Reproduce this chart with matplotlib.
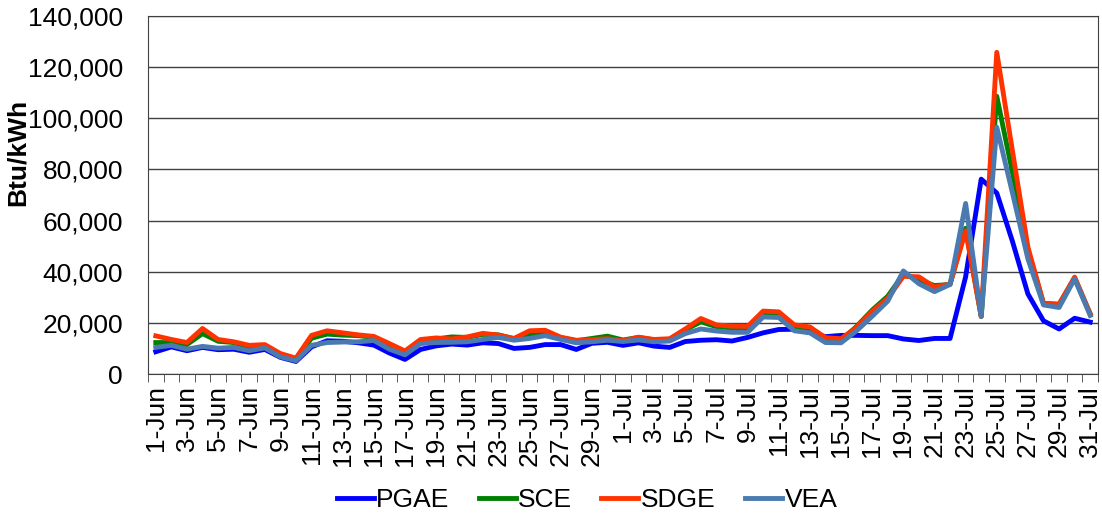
import matplotlib
matplotlib.use('Agg')
import matplotlib.pyplot as plt
from matplotlib.ticker import FuncFormatter, FixedLocator
import numpy as np

# daily labels 1-Jun .. 31-Jul
days = [str(d) + '-Jun' for d in range(1, 31)] + [str(d) + '-Jul' for d in range(1, 32)]

pgae = [8700, 10600, 9100, 10400, 9500, 9700, 8500, 9600, 6500, 4900,
        10600, 13000, 12800, 12200, 11300, 8200, 5700, 9600, 11000, 11700,
        11300, 12200, 11900, 10000, 10400, 11500, 11500, 9600, 12000, 12400,
        11200, 12200, 10900, 10400, 12700, 13200, 13400, 12900, 14300, 16100,
        17400, 17500, 16200, 14600, 15100, 15100, 15000, 15000, 13700, 13100,
        13900, 13900, 38000, 76200, 70800, 52000, 31300, 20800, 17600, 21800,
        20300]
sce = [12300, 12300, 11500, 15800, 12800, 12300, 10500, 11000, 7500, 5700,
       14000, 15600, 15200, 15000, 14300, 11400, 8500, 13000, 13700, 14500,
       14300, 15500, 15300, 13800, 15600, 15900, 14200, 13000, 13900, 14800,
       13300, 14300, 13300, 13500, 17300, 20400, 18500, 18000, 18000, 23600,
       23300, 18700, 17800, 13500, 13200, 18600, 25000, 30400, 39000, 36800,
       34600, 35000, 57000, 22500, 108600, 79000, 48500, 27600, 27300, 37500,
       23500]
sdge = [14900, 13500, 12300, 17800, 13500, 12600, 11200, 11500, 8000, 6200,
        15100, 16900, 16100, 15300, 14700, 11900, 9000, 13500, 14100, 13700,
        14500, 15900, 15200, 13900, 16900, 17100, 14400, 13200, 13400, 13800,
        13000, 14400, 13500, 13800, 17600, 21700, 19200, 18700, 18600, 24600,
        24300, 19200, 18400, 14200, 13800, 18200, 24500, 29600, 38200, 38000,
        34000, 35200, 56000, 22500, 125800, 87500, 49600, 27600, 27200, 37900,
        23500]
vea = [10400, 11200, 9700, 10800, 10100, 10400, 9100, 10200, 6700, 5200,
       11200, 12300, 12500, 12600, 13100, 9700, 7500, 11900, 12300, 12400,
       12600, 13500, 14300, 13200, 13900, 15000, 13500, 12200, 12600, 13200,
       12700, 13300, 12600, 12900, 15800, 17600, 16800, 16300, 16300, 22300,
       22100, 16900, 16100, 12300, 12200, 16900, 22600, 28500, 40300, 35300,
       32200, 35000, 66700, 22500, 96500, 71000, 45000, 27000, 26000, 37200,
       22900]

series = [('PGAE', pgae, '#0000FF'),
          ('SCE', sce, '#008000'),
          ('SDGE', sdge, '#FF3300'),
          ('VEA', vea, '#4A7AB0')]

plt.rcParams['font.family'] = ['Liberation Sans', 'DejaVu Sans']

fig = plt.figure(figsize=(11.02, 5.19), dpi=100)
ax = fig.add_axes([148/1102, 1-374/519, 950/1102, 358/519])

x = np.arange(len(days))
for name, vals, col in series:
    ax.plot(x, vals, color=col, linewidth=3.5, label=name, solid_joinstyle='round')

ax.set_xlim(-0.5, len(days) - 0.5)
ax.set_ylim(0, 140000)
ax.set_yticks(range(0, 140001, 20000))
ax.yaxis.set_major_formatter(FuncFormatter(lambda v, p: '{:,.0f}'.format(v)))
ax.grid(axis='y', color='#404040', linewidth=1)
ax.set_axisbelow(True)

# labels on every 2nd day, tick marks between categories
ax.set_xticks(x[::2])
ax.set_xticklabels(days[::2], rotation=90)
ax.xaxis.set_minor_locator(FixedLocator(np.arange(-0.5, len(days), 1)))
ax.tick_params(axis='x', which='major', length=0, pad=8, labelsize=19)
ax.tick_params(axis='x', which='minor', length=6, color='#404040')
ax.tick_params(axis='y', length=0, pad=18, labelsize=19)

for s in ax.spines.values():
    s.set_color('#404040')

fig.text(18/1102, 1-152/519, 'Btu/kWh', rotation=90, ha='center', va='center',
         fontsize=19, fontweight='bold')

fig.legend(loc='center', bbox_to_anchor=(587/1102, 1-500/519), ncol=4, frameon=False,
           fontsize=19, handlelength=1.4, handletextpad=0.1, columnspacing=1.1)

fig.savefig('out.png', dpi=100)
